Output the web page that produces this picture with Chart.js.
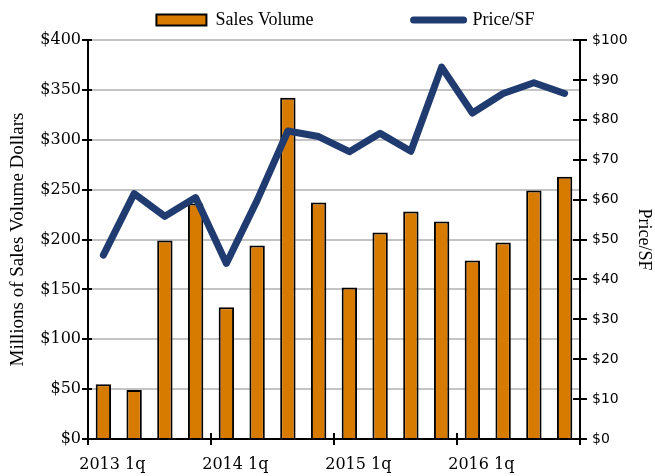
<!DOCTYPE html>
<html>
<head>
<meta charset="utf-8">
<script src="https://cdn.jsdelivr.net/npm/chart.js@4/dist/chart.umd.min.js"></script>
<style>
  html, body { margin: 0; padding: 0; background: #ffffff; }
  #wrap { position: relative; width: 655px; height: 476px; }
</style>
</head>
<body>
<div id="wrap"><canvas id="c"></canvas></div>
<script>
// ---- data ----
const categories = [
  "2013 1q","2013 2q","2013 3q","2013 4q",
  "2014 1q","2014 2q","2014 3q","2014 4q",
  "2015 1q","2015 2q","2015 3q","2015 4q",
  "2016 1q","2016 2q","2016 3q","2016 4q"
];
const salesVolume = [55, 49, 199, 236, 132, 194, 342, 237, 152, 207, 228, 218, 179, 197, 249, 263];
const pricePerSF  = [46.1, 61.5, 55.8, 60.5, 44.0, 59.8, 77.2, 75.8, 72.0, 76.6, 72.1, 93.2, 81.7, 86.6, 89.3, 86.6];
const seriesNames = ["Sales Volume", "Price/SF"];
const leftTitle = "Millions of Sales Volume Dollars";
const rightTitle = "Price/SF";

const barColor = "#D67B00";
const lineColor = "#1F3B70";

// tick marks that cross the axis lines
const crossTicks = {
  id: 'crossTicks',
  afterDraw(chart) {
    const { ctx, scales } = chart;
    const x = scales.x, y = scales.y, y1 = scales.y1;
    ctx.save();
    ctx.strokeStyle = '#000';
    ctx.lineWidth = 2;
    ctx.beginPath();
    y.ticks.forEach(t => {
      const p = Math.round(y.getPixelForValue(t.value));
      ctx.moveTo(y.right - 6, p); ctx.lineTo(y.right + 4, p);
    });
    y1.ticks.forEach(t => {
      const p = Math.round(y1.getPixelForValue(t.value));
      ctx.moveTo(y1.left - 7, p); ctx.lineTo(y1.left + 7, p);
    });
    for (let i = 0; i <= categories.length; i += 4) {
      const p = Math.round(x.getPixelForValue(i - 0.5));
      ctx.moveTo(p, x.top - 6); ctx.lineTo(p, x.top + 6);
    }
    ctx.stroke();
    ctx.restore();
  }
};

// place the legend row
const legendPlace = {
  id: 'legendPlace',
  afterLayout(chart) {
    const lg = chart.legend;
    if (!lg) return;
    const pad = lg.options.labels.padding;
    lg.top = 11 - pad;
    lg.bottom = 40;
    lg.left += 18;
    lg.right += 18;
  }
};

new Chart(document.getElementById('c'), {
  data: {
    labels: categories,
    datasets: [
      {
        type: 'line',
        label: seriesNames[1],
        data: pricePerSF,
        yAxisID: 'y1',
        borderColor: lineColor,
        backgroundColor: lineColor,
        borderWidth: 7,
        borderCapStyle: 'round',
        borderJoinStyle: 'round',
        pointRadius: 0,
        tension: 0
      },
      {
        type: 'bar',
        label: seriesNames[0],
        data: salesVolume,
        yAxisID: 'y',
        backgroundColor: barColor,
        borderColor: '#000000',
        borderWidth: 2,
        barPercentage: 0.5,
        categoryPercentage: 1.0
      }
    ]
  },
  options: {
    responsive: true,
    maintainAspectRatio: false,
    animation: false,
    layout: { padding: 0 },
    plugins: {
      tooltip: { enabled: false },
      legend: {
        display: true,
        position: 'top',
        maxHeight: 40,
        labels: {
          usePointStyle: true,
          pointStyleWidth: 50,
          boxHeight: 11,
          padding: 100,
          color: '#000',
          font: { family: "'Liberation Serif', serif", size: 18 },
          generateLabels() {
            return [
              { text: seriesNames[0], fillStyle: barColor, strokeStyle: '#000', lineWidth: 2,
                pointStyle: 'rect', datasetIndex: 1, hidden: false, fontColor: '#000' },
              { text: seriesNames[1], fillStyle: lineColor, strokeStyle: lineColor, lineWidth: 7,
                lineCap: 'round', pointStyle: 'line', datasetIndex: 0, hidden: false, fontColor: '#000' }
            ];
          }
        }
      }
    },
    scales: {
      x: {
        type: 'category',
        offset: true,
        grid: {
          offset: true,
          drawOnChartArea: false,
          drawTicks: true,
          tickLength: 6,
          tickColor: 'rgba(0,0,0,0)'
        },
        border: { display: true, color: '#000', width: 2 },
        ticks: {
          autoSkip: false,
          maxRotation: 0,
          minRotation: 0,
          padding: 10,
          labelOffset: 9,
          color: '#000',
          font: { family: "'DejaVu Serif', serif", size: 16 },
          callback(value, index) { return index % 4 === 0 ? categories[index] : ''; }
        },
        afterFit(scale) { scale.height = 37; }
      },
      y: {
        position: 'left',
        min: 0,
        max: 400,
        grid: {
          drawOnChartArea: true,
          color: '#c4c4c4',
          lineWidth: 2,
          drawTicks: true,
          tickLength: 6,
          tickColor: 'rgba(0,0,0,0)'
        },
        border: { display: true, color: '#000', width: 2 },
        ticks: {
          stepSize: 50,
          padding: 1,
          color: '#000',
          font: { family: "'DejaVu Serif', serif", size: 16 },
          callback(v) { return '$' + v; }
        },
        title: {
          display: true,
          text: leftTitle,
          color: '#000',
          font: { family: "'Liberation Serif', serif", size: 19 },
          padding: { top: 6.6, bottom: 0 }
        },
        afterFit(scale) { scale.width = 88; }
      },
      y1: {
        position: 'right',
        min: 0,
        max: 100,
        grid: {
          drawOnChartArea: false,
          drawTicks: true,
          tickLength: 7,
          tickColor: 'rgba(0,0,0,0)'
        },
        border: { display: true, color: '#000', width: 2 },
        ticks: {
          stepSize: 10,
          padding: 5,
          color: '#000',
          font: { family: "'DejaVu Sans', sans-serif", size: 14 },
          callback(v) { return '$' + v; }
        },
        title: {
          display: true,
          text: rightTitle,
          color: '#000',
          font: { family: "'Liberation Serif', serif", size: 18 },
          padding: { top: 0, bottom: 0 }
        },
        afterFit(scale) { scale.width = 75; }
      }
    }
  },
  plugins: [crossTicks, legendPlace]
});
</script>
</body>
</html>
